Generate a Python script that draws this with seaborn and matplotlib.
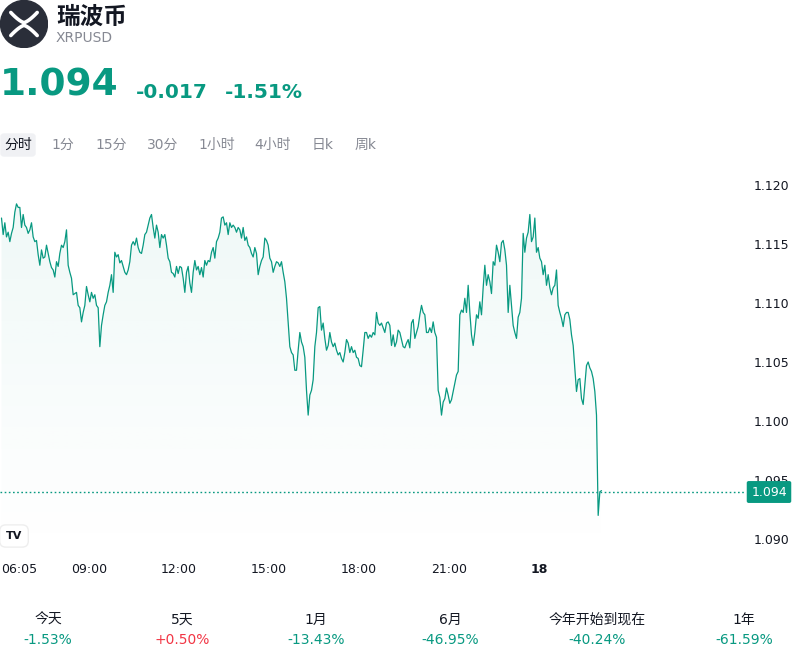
import numpy as np
import pandas as pd
import matplotlib
matplotlib.use("Agg")
import matplotlib.pyplot as plt
import seaborn as sns
from matplotlib.patches import Circle, FancyBboxPatch

# ---- data -----------------------------------------------------------------
name = "瑞波币"
ticker = "XRPUSD"
last_price = 1.094
change_abs = "-0.017"
change_pct = "-1.51%"

tabs = ["分时", "1分", "15分", "30分", "1小时", "4小时", "日k", "周k"]

# price every 200 s starting 06:05
prices = [
    1.1172, 1.1158, 1.1168, 1.1156, 1.1160, 1.1152, 1.1159, 1.1164, 1.1177, 1.1184,
    1.1181, 1.1181, 1.1164, 1.1175, 1.1166, 1.1164, 1.1159, 1.1162, 1.1168, 1.1156,
    1.1152, 1.1153, 1.1141, 1.1132, 1.1145, 1.1138, 1.1139, 1.1149, 1.1142, 1.1135,
    1.1130, 1.1128, 1.1122, 1.1135, 1.1131, 1.1142, 1.1149, 1.1147, 1.1152, 1.1162,
    1.1132, 1.1126, 1.1121, 1.1107, 1.1108, 1.1109, 1.1098, 1.1096, 1.1084, 1.1092,
    1.1098, 1.1114, 1.1107, 1.1101, 1.1109, 1.1104, 1.1107, 1.1098, 1.1096, 1.1063,
    1.1081, 1.1090, 1.1098, 1.1101, 1.1109, 1.1115, 1.1124, 1.1109, 1.1143, 1.1139,
    1.1141, 1.1134, 1.1136, 1.1131, 1.1126, 1.1124, 1.1128, 1.1135, 1.1149, 1.1152,
    1.1149, 1.1155, 1.1147, 1.1143, 1.1142, 1.1149, 1.1158, 1.1160, 1.1166, 1.1172,
    1.1175, 1.1164, 1.1155, 1.1166, 1.1160, 1.1147, 1.1158, 1.1155, 1.1158, 1.1149,
    1.1138, 1.1135, 1.1126, 1.1125, 1.1122, 1.1131, 1.1125, 1.1131, 1.1130, 1.1121,
    1.1109, 1.1126, 1.1131, 1.1117, 1.1109, 1.1126, 1.1136, 1.1128, 1.1131, 1.1124,
    1.1130, 1.1122, 1.1136, 1.1132, 1.1136, 1.1135, 1.1143, 1.1147, 1.1138, 1.1152,
    1.1155, 1.1160, 1.1172, 1.1173, 1.1166, 1.1168, 1.1158, 1.1168, 1.1164, 1.1166,
    1.1164, 1.1160, 1.1164, 1.1162, 1.1155, 1.1164, 1.1153, 1.1156, 1.1149, 1.1147,
    1.1142, 1.1139, 1.1147, 1.1142, 1.1124, 1.1131, 1.1136, 1.1139, 1.1155, 1.1153,
    1.1149, 1.1138, 1.1135, 1.1126, 1.1131, 1.1135, 1.1134, 1.1131, 1.1135, 1.1126,
    1.1118, 1.1104, 1.1084, 1.1063, 1.1058, 1.1056, 1.1043,
    1.1043, 1.1060, 1.1075, 1.1067, 1.1063, 1.1054, 1.1026, 1.1005, 1.1022, 1.1026,
    1.1035, 1.1063, 1.1075, 1.1096, 1.1097, 1.1077, 1.1083, 1.1070, 1.1060, 1.1064,
    1.1075, 1.1067, 1.1063, 1.1066, 1.1060, 1.1056, 1.1058, 1.1053, 1.1050, 1.1058,
    1.1069, 1.1066, 1.1058, 1.1063, 1.1058, 1.1060, 1.1054, 1.1053, 1.1047, 1.1046,
    1.1060, 1.1075, 1.1075, 1.1070, 1.1073, 1.1071, 1.1075, 1.1073, 1.1092, 1.1083,
    1.1081, 1.1083, 1.1079, 1.1075, 1.1083, 1.1084, 1.1081, 1.1064, 1.1073, 1.1063,
    1.1067, 1.1077, 1.1075, 1.1069, 1.1063, 1.1062, 1.1066, 1.1069, 1.1062, 1.1083,
    1.1086, 1.1070, 1.1075, 1.1080, 1.1090, 1.1098, 1.1092, 1.1090, 1.1075, 1.1075,
    1.1079, 1.1075, 1.1084, 1.1075, 1.1071, 1.1026, 1.1020,
    1.1005, 1.1016, 1.1019, 1.1028, 1.1022, 1.1015, 1.1018, 1.1025, 1.1032, 1.1039,
    1.1042, 1.1090, 1.1094, 1.1092, 1.1104, 1.1092, 1.1115, 1.1092, 1.1073, 1.1064,
    1.1075, 1.1090, 1.1087, 1.1101, 1.1090, 1.1113, 1.1132, 1.1115, 1.1124, 1.1118,
    1.1108, 1.1135, 1.1132, 1.1149, 1.1143, 1.1135, 1.1151, 1.1153, 1.1145, 1.1132,
    1.1092, 1.1115, 1.1098, 1.1081, 1.1075, 1.1070, 1.1088, 1.1092, 1.1104, 1.1159,
    1.1143, 1.1155, 1.1160, 1.1175, 1.1152, 1.1156, 1.1172, 1.1143, 1.1147, 1.1138,
    1.1135, 1.1124, 1.1132, 1.1115, 1.1124, 1.1113, 1.1107, 1.1113, 1.1115, 1.1128,
    1.1098, 1.1092, 1.1087, 1.1080, 1.1090, 1.1092, 1.1092, 1.1086, 1.1073, 1.1064,
    1.1045, 1.1025, 1.1035, 1.1036, 1.1019, 1.1014, 1.1031, 1.1047, 1.1050, 1.1045,
    1.1042, 1.1036, 1.1025, 1.1005, 1.0920, 1.0940, 1.0941,
]

price_ticks = [1.090, 1.095, 1.100, 1.105, 1.110, 1.115, 1.120]
time_ticks = ["06:05", "09:00", "12:00", "15:00", "18:00", "21:00", "00:00"]
time_labels = ["06:05", "09:00", "12:00", "15:00", "18:00", "21:00", "18"]

periods = ["今天", "5天", "1月", "6月", "今年开始到现在", "1年"]
period_changes = [-1.53, 0.50, -13.43, -46.95, -40.24, -61.59]

# ---- style ----------------------------------------------------------------
GREEN = "#089981"
RED = "#F23645"
DARK = "#131722"
GREY = "#868993"

sns.set_style("white")
plt.rcParams["font.family"] = ["DejaVu Sans", "Noto Sans CJK SC"]

W, H = 800, 660
fig = plt.figure(figsize=(8, 6.6), dpi=100)


def fx(x):
    return x / W


def fy(y):
    return 1 - y / H


# ---- header ---------------------------------------------------------------
logo = fig.add_axes([0, fy(48), fx(48), 48 / H])
logo.set_xlim(-1, 1)
logo.set_ylim(-1, 1)
logo.set_aspect("equal")
logo.axis("off")
logo.add_patch(Circle((0, 0), 0.98, color="#2a2e39"))
u = np.linspace(-1, 1, 60)
logo.plot(0.55 * u, 0.06 + 0.42 * np.abs(u) ** 1.4, color="white", lw=2.6,
          solid_capstyle="round")
logo.plot(0.55 * u, -0.06 - 0.42 * np.abs(u) ** 1.4, color="white", lw=2.6,
          solid_capstyle="round")

fig.text(fx(56), fy(17), name, fontsize=17, fontweight="bold", color=DARK,
         va="center", ha="left")
fig.text(fx(56), fy(38), ticker, fontsize=10, color=GREY, va="center", ha="left")

fig.text(fx(0), fy(86), f"{last_price:.3f}", fontsize=27, fontweight="bold",
         color=GREEN, va="center", ha="left")
fig.text(fx(136), fy(92), change_abs, fontsize=14.5, fontweight="bold",
         color=GREEN, va="center", ha="left")
fig.text(fx(225), fy(92), change_pct, fontsize=14.5, fontweight="bold",
         color=GREEN, va="center", ha="left")

# tabs
tab_x = [18, 63, 111, 163, 217, 273, 323, 366]
fig.patches.append(FancyBboxPatch((fx(1), fy(156)), fx(34), 22 / H,
                                  boxstyle="round,pad=0,rounding_size=0.004",
                                  transform=fig.transFigure, color="#f0f1f4"))
for i, (t, x) in enumerate(zip(tabs, tab_x)):
    fig.text(fx(x), fy(145), t, fontsize=10, ha="center", va="center",
             color=DARK if i == 0 else GREY)

# ---- price chart ----------------------------------------------------------
start = pd.Timestamp("2025-11-17 06:05")
df = pd.DataFrame({
    "time": pd.date_range(start, periods=len(prices), freq="200s"),
    "price": prices,
})

ax = fig.add_axes([0, fy(555), fx(745), (555 - 170) / H])
x_left = pd.Timestamp("2025-11-17 06:02")
x_right = x_left + pd.Timedelta(hours=745 / 30)
y_low = 1.12 - (555 - 185) / 11800
y_high = 1.12 + 15 / 11800

sns.lineplot(data=df, x="time", y="price", ax=ax, color=GREEN, lw=0.9)

# gradient fill under the line
xn = matplotlib.dates.date2num(df["time"])
poly = ax.fill_between(xn, df["price"], y_low, color="none", lw=0)
grad = np.zeros((256, 1, 4))
grad[:, 0, :3] = matplotlib.colors.to_rgb(GREEN)
grad[:, 0, 3] = np.linspace(0.065, 0.0, 256)
img = ax.imshow(grad, aspect="auto", origin="upper",
                extent=[xn[0], xn[-1], y_low, df["price"].max()],
                zorder=0)
img.set_clip_path(poly.get_paths()[0], transform=ax.transData)

ax.axhline(last_price, color=GREEN, lw=1, ls=(0, (1.2, 1.8)))

ax.set_xlim(x_left, x_right)
ax.set_ylim(y_low, y_high)
sns.despine(ax=ax, left=True, bottom=True, right=True, top=True)
ax.set_xlabel("")
ax.set_ylabel("")

ax.yaxis.tick_right()
ax.set_yticks(price_ticks)
ax.set_yticklabels([f"{p:.3f}" for p in price_ticks])
ax.tick_params(axis="y", length=0, pad=6.5, labelsize=9, labelcolor=DARK)

tick_pos = [pd.Timestamp(f"2025-11-17 {t}") for t in time_ticks]
tick_pos[-1] = pd.Timestamp("2025-11-18 00:00")
ax.set_xticks(tick_pos)
ax.set_xticklabels(time_labels)
ax.tick_params(axis="x", length=0, pad=6, labelsize=9, labelcolor=DARK)
xt = ax.get_xticklabels()
xt[0].set_ha("left")
xt[-1].set_fontweight("bold")

# last price tag
fig.text(fx(769), fy(492), f"{last_price:.3f}", fontsize=9, color="white",
         ha="center", va="center",
         bbox=dict(boxstyle="round,pad=0.3,rounding_size=0.1", fc=GREEN, ec=GREEN))

# TradingView badge
fig.text(fx(14), fy(536), "TV", fontsize=8, fontweight="bold", color=DARK,
         ha="center", va="center",
         bbox=dict(boxstyle="round,pad=0.55", fc="white", ec="#eeeeee"))

# ---- period performance ---------------------------------------------------
col_x = [48, 182, 316, 450, 597, 744]
for p, v, x in zip(periods, period_changes, col_x):
    fig.text(fx(x), fy(620), p, fontsize=10, color=DARK, ha="center", va="center")
    fig.text(fx(x), fy(640), f"{v:+.2f}%", fontsize=10,
             color=GREEN if v < 0 else RED, ha="center", va="center")

fig.savefig("out.png", dpi=100)
